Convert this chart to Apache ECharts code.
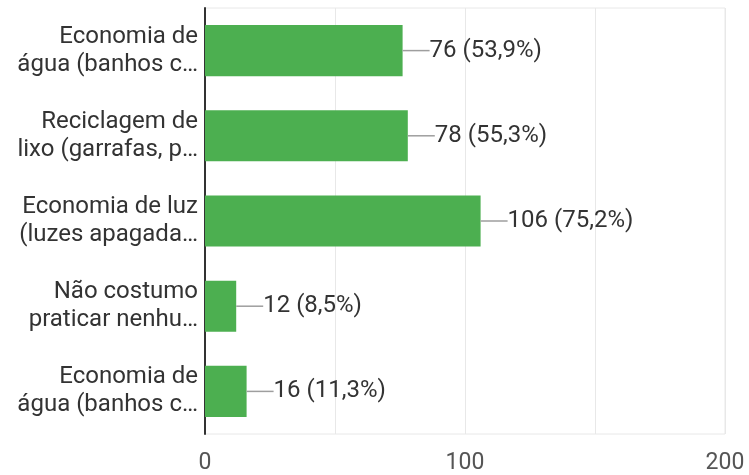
<!DOCTYPE html>
<html>
<head>
<meta charset="utf-8">
<script src="https://cdn.jsdelivr.net/npm/echarts@6/dist/echarts.min.js"></script>
<style>html,body{margin:0;padding:0;background:#fff;}#c{width:749px;height:475px;}</style>
</head>
<body>
<div id="c"></div>
<script>
const categories = [
  "Economia de\nágua (banhos c…",
  "Reciclagem de\nlixo (garrafas, p…",
  "Economia de luz\n(luzes apagada…",
  "Não costumo\npraticar nenhu…",
  "Economia de\nágua (banhos c…"
];
const values = [76, 78, 106, 12, 16];
const percents = ["53,9%", "55,3%", "75,2%", "8,5%", "11,3%"];
const xTicks = [0, 100, 200];

const chart = echarts.init(document.getElementById('c'), null, {renderer: 'canvas'});
chart.setOption({
  animation: false,
  backgroundColor: '#fff',
  grid: {left: 205, right: 24, top: 8, bottom: 41, show: true, borderColor: '#e8e8e8', borderWidth: 1},
  xAxis: {
    type: 'value', min: 0, max: 200, interval: 50,
    axisLine: {show: false}, axisTick: {show: false},
    splitLine: {show: true, lineStyle: {color: '#e8e8e8', width: 1}},
    axisLabel: {
      color: '#555', fontSize: 23, fontFamily: 'Roboto', margin: 18,
      formatter: v => xTicks.indexOf(v) >= 0 ? String(v) : ''
    }
  },
  yAxis: {
    type: 'category', data: categories, inverse: true,
    axisLine: {show: true, lineStyle: {color: '#333', width: 2}},
    axisTick: {show: false},
    splitLine: {show: false},
    axisLabel: {color: '#333', fontSize: 24, fontFamily: 'Roboto', lineHeight: 28, margin: 7, align: 'right'}
  },
  series: [{
    type: 'bar',
    data: values,
    barWidth: '60%',
    itemStyle: {color: '#4CAF50'},
    label: {
      show: true, position: 'right', distance: 0,
      formatter: p => '{ln| }{t|' + p.value + ' (' + percents[p.dataIndex] + ')}',
      rich: {
        ln: {width: 27, height: 1.5, backgroundColor: '#9e9e9e'},
        t: {color: '#333', fontSize: 24, fontFamily: 'Roboto'}
      }
    }
  }]
});
</script>
</body>
</html>
